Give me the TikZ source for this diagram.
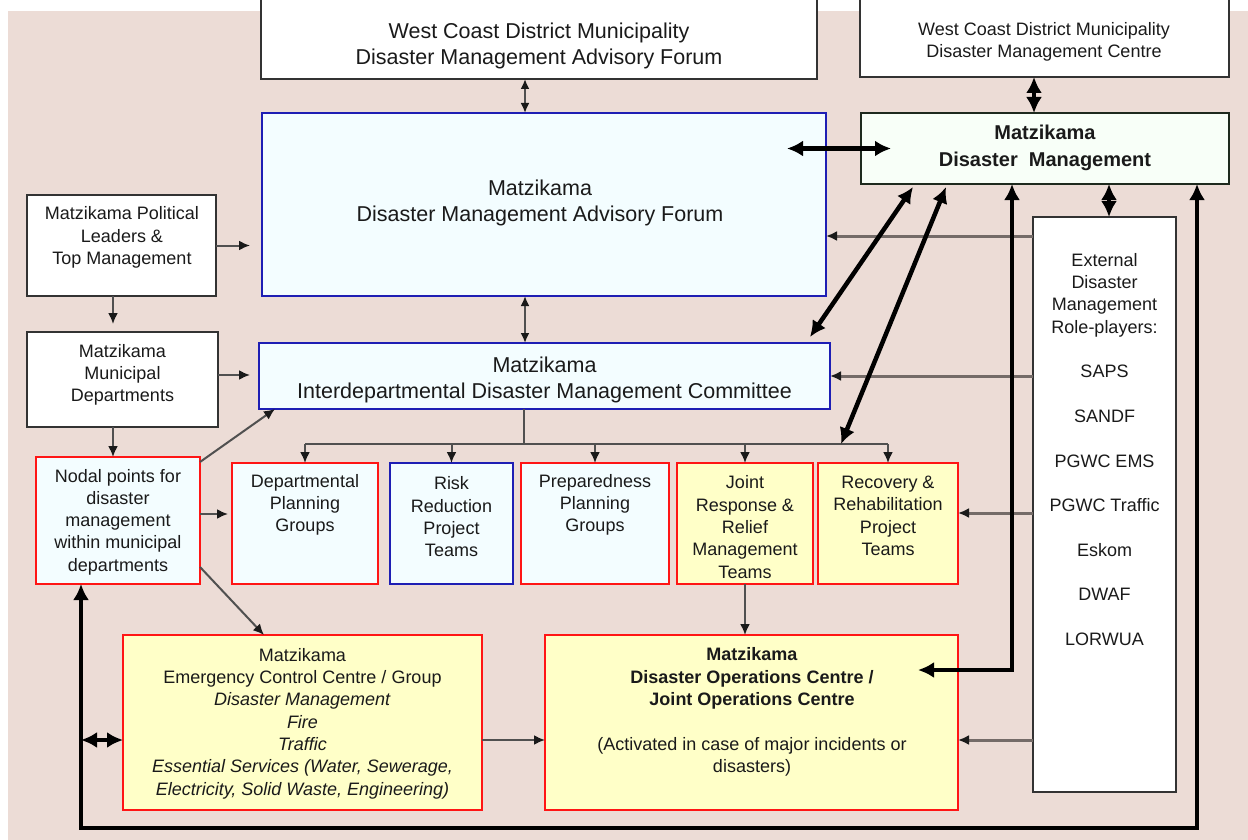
\documentclass[tikz,border=0pt]{standalone}
\usepackage{fontspec}
\setmainfont{Liberation Sans}
\usetikzlibrary{arrows.meta,calc}
\definecolor{bg}{HTML}{ECDCD6}
\definecolor{cyanfill}{HTML}{F3FDFF}
\definecolor{yelfill}{HTML}{FFFFC8}
\definecolor{redline}{HTML}{FF1515}
\definecolor{blueline}{HTML}{1E1EB4}
\definecolor{dmline}{HTML}{1E2A1E}
\definecolor{dmfill}{HTML}{F8FFF8}
\definecolor{txtc}{HTML}{1A1A1A}
\definecolor{arrc}{HTML}{505050}
\definecolor{headc}{HTML}{1A1A1A}
\definecolor{greyc}{HTML}{746B68}
\tikzset{
  bx/.style={draw, rectangle, line width=1.8pt, outer sep=0pt, inner sep=0pt, anchor=north west},
  wbox/.style={bx, draw=black!80, fill=white},
  cybox/.style={bx, draw=redline, fill=cyanfill},
  cbbox/.style={bx, draw=blueline, fill=cyanfill},
  ylbox/.style={bx, draw=redline, fill=yelfill},
  txt/.style={align=center, text=txtc, inner sep=0pt, font=\fontsize{18}{22.3}\selectfont},
  bigtxt/.style={txt, font=\fontsize{21.5}{26}\selectfont},
  thinarr/.style={draw=arrc, line width=2pt, -{Latex[length=11pt,width=10pt,color=headc]}},
  thinboth/.style={draw=arrc, line width=2pt, {Latex[length=10pt,width=9pt,color=headc]}-{Latex[length=10pt,width=9pt,color=headc]}},
  thinline/.style={draw=arrc, line width=2pt},
  greyarr/.style={draw=greyc, line width=3pt, -{Latex[length=11pt,width=10pt,color=headc]}},
  thk/.style={draw=black, line width=4.5pt, {Latex[length=16pt,width=16pt]}-{Latex[length=16pt,width=16pt]}}
}
\begin{document}
\begin{tikzpicture}[x=1pt,y=-1pt]
\useasboundingbox (0,0) rectangle (1248,840);
\fill[bg] (8,11) rectangle (1248,840);

% boxes
\node[wbox, minimum width=556pt, minimum height=89pt] (wcaf) at (261,-10) {};
\node[bigtxt] (wcafT) at (539,46) {West Coast District Municipality\\Disaster Management Advisory Forum};

\node[wbox, minimum width=369pt, minimum height=87pt] (wcdmc) at (860,-10) {};
\node[txt] (wcdmcT) at (1044,42) {West Coast District Municipality\\Disaster Management Centre};

\node[bx, draw=dmline, fill=dmfill, minimum width=368pt, minimum height=71pt] (dm) at (861,113) {};
\node[txt, font=\fontsize{20}{27}\selectfont\bfseries] (dmT) at (1045,148) {Matzikama\\Disaster~ Management};

\node[cbbox, minimum width=564pt, minimum height=183pt] (af) at (262,113) {};
\node[bigtxt] (afT) at (540,203) {Matzikama\\Disaster Management Advisory Forum};

\node[wbox, minimum width=189pt, minimum height=101pt] (pol) at (27,195) {};
\node[txt] (polT) at (122,237.5) {Matzikama Political\\Leaders \&\\Top Management};

\node[wbox, minimum width=191pt, minimum height=95pt] (mun) at (27,332) {};
\node[txt] (munT) at (122.5,375) {Matzikama\\Municipal\\Departments};

\node[cbbox, minimum width=571pt, minimum height=66pt] (idmc) at (259,343) {};
\node[bigtxt] (idmcT) at (544.5,380) {Matzikama\\Interdepartmental Disaster Management Committee};

\node[cybox, minimum width=164pt, minimum height=127pt] (nodal) at (36,457) {};
\node[txt] (nodalT) at (118,522) {Nodal points for\\disaster\\management\\within municipal\\departments};

\node[cybox, minimum width=146pt, minimum height=121pt] (dept) at (232,463) {};
\node[txt] (deptT) at (305,505) {Departmental\\Planning\\Groups};

\node[cbbox, minimum width=123pt, minimum height=121pt] (risk) at (390,463) {};
\node[txt] (riskT) at (451.5,517) {Risk\\Reduction\\Project\\Teams};

\node[cybox, minimum width=148pt, minimum height=121pt] (prep) at (521,463) {};
\node[txt] (prepT) at (595,505) {Preparedness\\Planning\\Groups};

\node[ylbox, minimum width=136pt, minimum height=121pt] (joint) at (677,463) {};
\node[txt] (jointT) at (745,527) {Joint\\Response \&\\Relief\\Management\\Teams};

\node[ylbox, minimum width=140pt, minimum height=121pt] (recov) at (818,463) {};
\node[txt] (recovT) at (888,516) {Recovery \&\\Rehabilitation\\Project\\Teams};

\node[wbox, minimum width=143pt, minimum height=575pt] (ext) at (1033,217) {};
\node[txt] (extT) at (1104.5,449.5) {External\\Disaster\\Management\\Role-players:\\[22.3pt]SAPS\\[22.3pt]SANDF\\[22.3pt]PGWC EMS\\[22.3pt]PGWC Traffic\\[22.3pt]Eskom\\[22.3pt]DWAF\\[22.3pt]LORWUA};

\node[ylbox, minimum width=359pt, minimum height=175pt] (ecc) at (123,635) {};
\node[txt] (eccT) at (302.5,723.5) {Matzikama\\Emergency Control Centre / Group\\\textit{Disaster Management}\\\textit{Fire}\\\textit{Traffic}\\\textit{Essential Services (Water, Sewerage,}\\\textit{Electricity, Solid Waste, Engineering)}};

\node[ylbox, minimum width=413pt, minimum height=175pt] (doc) at (545,635) {};
\node[txt] (docT) at (752,712) {\textbf{Matzikama}\\\textbf{Disaster Operations Centre /}\\\textbf{Joint Operations Centre}\\[22.3pt](Activated in case of major incidents or\\disasters)};

% thin connectors
\draw[thinboth] ([xshift=-14pt]wcaf.south) -- ([xshift=-14pt]wcaf.south |- af.north);
\draw[thinboth] ([xshift=-19pt]af.south) -- ([xshift=-19pt]af.south |- idmc.north);
\draw[thinarr, shorten >=12pt] (pol.east) -- (af.west |- pol.east);
\draw[thinarr, shorten >=8pt] ([xshift=-8.5pt]pol.south) -- ([xshift=-8.5pt]pol.south |- mun.north);
\coordinate (m1) at ($(mun.east)+(0,-4.5)$);
\draw[thinarr, shorten >=9pt] (m1) -- (m1 -| idmc.west);
\draw[thinarr] ([xshift=-9.5pt]mun.south) -- ([xshift=-9.5pt]mun.south |- nodal.north);
\draw[thinarr] ($(nodal.north east)+(0,5)$) -- ($(idmc.south west)+(16,0)$);
\coordinate (n1) at ($(nodal.east)+(0,-6.5)$);
\draw[thinarr, shorten >=4pt] (n1) -- (n1 -| dept.west);
\draw[thinarr] ($(nodal.south east)+(0,-17)$) -- ($(ecc.north west)+(141,0)$);

\coordinate (bc) at ($(idmc.south)+(-20.5,35)$);
\draw[thinline] (idmc.south -| bc) -- (bc);
\draw[thinline] (bc -| dept.north) -- (bc -| recov.north);
\foreach \n in {dept,risk,prep,joint,recov}
  \draw[thinarr] (bc -| \n.north) -- (\n.north);
\draw[thinarr] (joint.south) -- (joint.south |- doc.north);
\coordinate (e1) at ($(ecc.east)+(0,17.5)$);
\draw[thinarr] (e1) -- (e1 -| doc.west);

% grey connectors from external role-players
\coordinate (g1) at ($(ext.north west)+(0,19)$);
\draw[greyarr] (g1) -- (g1 -| af.east);
\draw[greyarr] (ext.west |- idmc.east) -- (idmc.east);
\coordinate (g3) at ($(recov.east)+(0,-10.5)$);
\draw[greyarr] (g3 -| ext.west) -- (g3);
\draw[greyarr] (e1 -| ext.west) -- (e1 -| doc.east);

% thick connectors
\coordinate (h0) at ($(af.east)+(-39,0)$);
\coordinate (h1) at ($(dm.west)+(30,0)$);
\draw[thk] (h0 |- h1) -- (h1);
\draw[thk] ($(wcdmc.south)+(-10.5,0)$) -- ($(dm.north)+(-11,0)$);
\draw[thk] ($(dm.south west)+(52,3)$) -- ($(idmc.north east)+(-20,-6)$);
\draw[thk] ($(dm.south west)+(85,3)$) -- ($(bc)+(317,0)$);
\draw[thk] ($(dm.south west)+(151,0)$) |- ($(doc.east)+(-40,-52.5)$);
\coordinate (x1) at ($(ext.north)+(4.5,0)$);
\draw[thk] (x1 |- dm.south) -- (x1);
\coordinate (lL) at ($(nodal.south west)+(45,244)$);
\coordinate (lR) at ($(dm.south east)+(-32,644)$);
\draw[thk] (lR |- dm.south) -- (lR) -- (lL) -- (lL |- nodal.south);
\coordinate (e2) at ($(ecc.west)+(0,17.5)$);
\draw[thk] (e2 -| lL) -- (e2);
\end{tikzpicture}
\end{document}
